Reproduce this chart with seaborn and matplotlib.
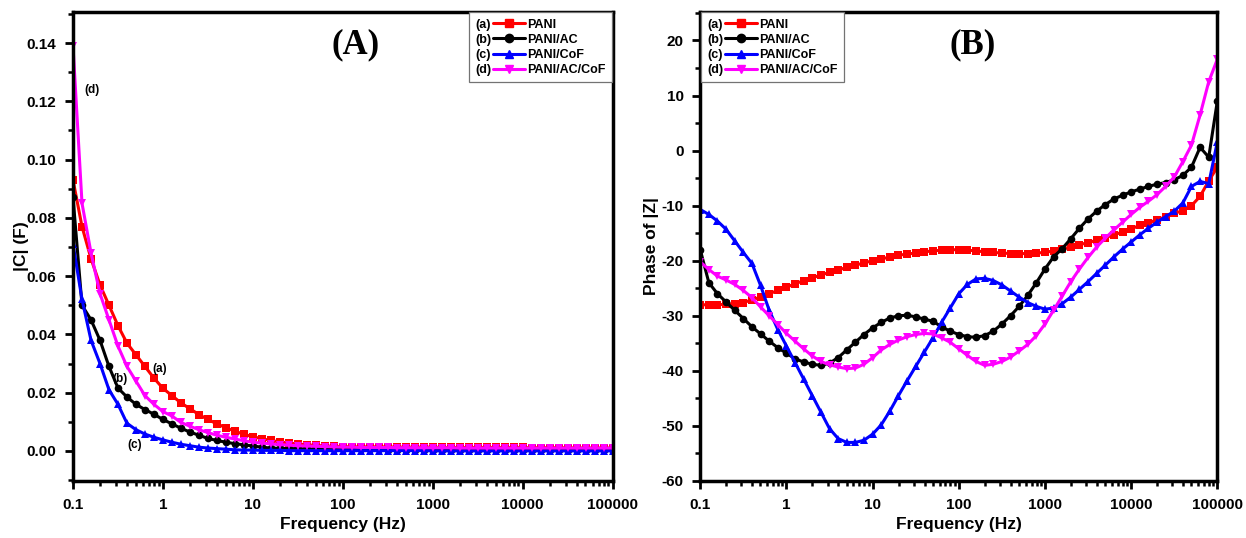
import numpy as np
import pandas as pd
import matplotlib
matplotlib.use("Agg")
import matplotlib.pyplot as plt
import seaborn as sns
from matplotlib.lines import Line2D
from matplotlib.legend_handler import HandlerBase
from matplotlib.ticker import FixedLocator, LogLocator, MultipleLocator, NullFormatter, FormatStrFormatter

# ---------------- data ----------------
FREQ_HZ = [0.1, 0.1259, 0.1585, 0.1995, 0.2512, 0.3162, 0.3981, 0.5012, 0.631, 0.7943,
           1, 1.259, 1.585, 1.995, 2.512, 3.162, 3.981, 5.012, 6.31, 7.943,
           10, 12.59, 15.85, 19.95, 25.12, 31.62, 39.81, 50.12, 63.1, 79.43,
           100, 125.9, 158.5, 199.5, 251.2, 316.2, 398.1, 501.2, 631, 794.3,
           1000, 1259, 1585, 1995, 2512, 3162, 3981, 5012, 6310, 7943,
           10000, 12590, 15850, 19950, 25120, 31620, 39810, 50120, 63100, 79430,
           100000]

SAMPLES = ["PANI", "PANI/AC", "PANI/CoF", "PANI/AC/CoF"]
TAGS = ["(a)", "(b)", "(c)", "(d)"]

# |C| (F)
C_PANI = [0.093, 0.077, 0.066, 0.057, 0.050, 0.043, 0.037, 0.033, 0.029, 0.025,
          0.0215, 0.019, 0.0165, 0.0145, 0.0125, 0.0108, 0.0093, 0.008, 0.0068, 0.0057,
          0.0049, 0.0042, 0.0036, 0.0031, 0.0027, 0.0024, 0.0021, 0.0019, 0.0017, 0.0016,
          0.0015, 0.0014, 0.0014, 0.0014, 0.0014, 0.0014, 0.0013, 0.0013, 0.0013, 0.0013,
          0.0013, 0.0012, 0.0012, 0.0012, 0.0012, 0.0012, 0.0012, 0.0012, 0.0012, 0.0012,
          0.0012, 0.0011, 0.0011, 0.0011, 0.0011, 0.0011, 0.0010, 0.0010, 0.0010, 0.0010,
          0.0010]
C_PANI_AC = [0.087, 0.050, 0.045, 0.038, 0.029, 0.0216, 0.0185, 0.016, 0.0142, 0.0126,
             0.0108, 0.0093, 0.0078, 0.0065, 0.0054, 0.0043, 0.0036, 0.003, 0.0025, 0.0021,
             0.0017, 0.0013, 0.0010, 0.0009, 0.0008, 0.0008, 0.0007, 0.0007, 0.0007, 0.0006,
             0.0006, 0.0006, 0.0006, 0.0006, 0.0006, 0.0005, 0.0005, 0.0005, 0.0005, 0.0005,
             0.0005, 0.0005, 0.0005, 0.0005, 0.0005, 0.0005, 0.0005, 0.0005, 0.0005, 0.0005,
             0.0005, 0.0005, 0.0005, 0.0005, 0.0005, 0.0005, 0.0005, 0.0005, 0.0005, 0.0005,
             0.0005]
C_PANI_COF = [0.071, 0.052, 0.038, 0.030, 0.021, 0.016, 0.0095, 0.0073, 0.0058, 0.0047,
              0.0038, 0.003, 0.0023, 0.0018, 0.0013, 0.001, 0.0008, 0.0006, 0.0004, 0.0003,
              0.0003, 0.0002, 0.0002, 0.0002, 0.0001, 0.0001, 0.0001, 0.0001, 0.0001, 0.0001,
              0.0001, 0.0001, 0.0001, 0.0001, 0.0001, 0.0001, 0.0001, 0.0001, 0.0001, 0.0001,
              0.0, 0.0, 0.0, 0.0, 0.0, 0.0, 0.0, 0.0, 0.0, 0.0,
              0.0, 0.0, 0.0, 0.0, 0.0, 0.0, 0.0, 0.0, 0.0, 0.0,
              0.0]
C_PANI_AC_COF = [0.139, 0.085, 0.068, 0.054, 0.045, 0.036, 0.029, 0.024, 0.019, 0.016,
                 0.0135, 0.012, 0.0098, 0.0085, 0.0073, 0.0063, 0.0054, 0.0047, 0.0041, 0.0035,
                 0.0030, 0.0027, 0.0024, 0.0022, 0.0020, 0.0018, 0.0017, 0.0016, 0.0015, 0.0014,
                 0.0013, 0.0013, 0.0012, 0.0012, 0.0012, 0.0012, 0.0011, 0.0011, 0.0011, 0.0011,
                 0.0011, 0.0011, 0.0011, 0.0010, 0.0010, 0.0010, 0.0010, 0.0010, 0.0010, 0.0010,
                 0.0010, 0.0010, 0.0010, 0.0010, 0.0010, 0.0010, 0.0010, 0.0010, 0.0010, 0.0010,
                 0.0010]

# Phase of |Z| (deg)
P_PANI = [-28.0, -28.0, -28.0, -27.9, -27.8, -27.6, -27.1, -26.6, -26.0, -25.4,
          -24.8, -24.2, -23.6, -23.1, -22.6, -22.1, -21.7, -21.2, -20.8, -20.4,
          -20.0, -19.7, -19.3, -19.0, -18.8, -18.6, -18.4, -18.2, -18.1, -18.0,
          -18.0, -18.1, -18.2, -18.4, -18.5, -18.6, -18.7, -18.7, -18.7, -18.6,
          -18.5, -18.2, -17.9, -17.5, -17.1, -16.7, -16.3, -15.8, -15.3, -14.8,
          -14.2, -13.6, -13.1, -12.6, -12.0, -11.4, -10.9, -10.0, -8.3, -5.5,
          -3.0]
P_PANI_AC = [-18.0, -24.0, -26.0, -27.5, -29.0, -30.5, -32.0, -33.3, -34.6, -35.8,
             -36.8, -37.8, -38.4, -38.8, -39.0, -38.6, -37.6, -36.2, -34.8, -33.4,
             -32.2, -31.2, -30.4, -30.0, -29.9, -30.2, -30.6, -31.0, -32.0, -32.8,
             -33.4, -33.8, -33.9, -33.6, -32.8, -31.5, -30.0, -28.3, -26.3, -24.0,
             -21.5, -19.3, -17.8, -16.0, -14.1, -12.4, -11.0, -9.8, -8.8, -8.1,
             -7.5, -7.0, -6.5, -6.1, -5.8, -5.3, -4.5, -3.0, 0.6, -1.2,
             9.0]
P_PANI_COF = [-10.7, -11.6, -12.8, -14.3, -16.4, -18.5, -20.5, -24.5, -29.0, -32.5,
              -35.5, -38.5, -41.5, -44.5, -47.5, -50.5, -52.3, -53.0, -53.0, -52.6,
              -51.5, -49.8, -47.3, -44.5, -41.8, -39.2, -36.6, -34.0, -31.2, -28.6,
              -26.0, -24.3, -23.3, -23.2, -23.6, -24.4, -25.5, -26.6, -27.6, -28.3,
              -28.8, -28.6, -27.8, -26.6, -25.2, -23.8, -22.3, -20.8, -19.3, -17.9,
              -16.6, -15.3, -14.1, -13.0, -12.0, -11.0, -9.5, -6.5, -5.6, -6.0,
              1.6]
P_PANI_AC_COF = [-20.2, -21.6, -22.8, -23.5, -24.3, -25.4, -26.7, -28.4, -30.0, -31.6,
                 -33.2, -34.6, -36.0, -37.3, -38.3, -38.9, -39.3, -39.6, -39.5, -38.8,
                 -37.6, -36.2, -35.2, -34.4, -33.8, -33.4, -33.2, -33.3, -34.0, -34.8,
                 -36.0, -37.2, -38.3, -39.0, -38.8, -38.3, -37.5, -36.4, -35.2, -33.6,
                 -31.5, -29.0, -26.4, -23.8, -21.5, -19.4, -17.5, -15.9, -14.4, -13.0,
                 -11.6, -10.3, -9.2, -8.0, -6.5, -4.8, -2.0, 1.0, 6.5, 12.5,
                 16.6]

X_TICKS = [0.1, 1, 10, 100, 1000, 10000, 100000]
X_TICK_LABELS = ["0.1", "1", "10", "100", "1000", "10000", "100000"]

# ---------------- style ----------------
sns.set_style("ticks")
plt.rcParams['font.family'] = ['Liberation Sans', 'DejaVu Sans']
plt.rcParams['font.weight'] = 'bold'
plt.rcParams['axes.labelweight'] = 'bold'
for key in ['text.color', 'axes.labelcolor', 'xtick.color', 'ytick.color', 'axes.edgecolor']:
    plt.rcParams[key] = 'black'

COLORS = {"PANI": "#FF0000", "PANI/AC": "#000000", "PANI/CoF": "#0000FF", "PANI/AC/CoF": "#FF00FF"}
MARKERS = {"PANI": "s", "PANI/AC": "o", "PANI/CoF": "^", "PANI/AC/CoF": "v"}
LEG_FS = 9.0
TAG_ROOM = 1.4  # em reserved at the left of each legend handle for the "(a)" tag

c_series = [C_PANI, C_PANI_AC, C_PANI_COF, C_PANI_AC_COF]
p_series = [P_PANI, P_PANI_AC, P_PANI_COF, P_PANI_AC_COF]
rows = []
for name, cv, pv in zip(SAMPLES, c_series, p_series):
    for f, c, p in zip(FREQ_HZ, cv, pv):
        rows.append({"freq": f, "C": c, "phase": p, "sample": name})
df = pd.DataFrame(rows)

fig = plt.figure(figsize=(12.46, 5.38), dpi=100)
axA = fig.add_axes([0.0586, 0.106, 0.433, 0.872])
axB = fig.add_axes([0.562, 0.106, 0.415, 0.872])


class ShiftedLineHandler(HandlerBase):
    """Legend handle: line + marker drawn in the right part of the handle box,
    leaving room at the left for the (a)..(d) tag text."""
    def create_artists(self, legend, orig, xd, yd, width, height, fontsize, trans):
        y = height / 2 - yd
        x0 = -xd + fontsize * TAG_ROOM
        x1 = -xd + width
        ln = Line2D([x0, x1], [y, y], color=orig.get_color(), lw=2.2, transform=trans)
        mk = Line2D([(x0 + x1) / 2], [y], marker=orig.get_marker(), color=orig.get_color(),
                    markersize=6, linestyle='none', transform=trans)
        return [ln, mk]


def style_axes(ax):
    for s in ax.spines.values():
        s.set_linewidth(2.5)
        s.set_color('black')
    ax.set_xscale('log')
    ax.set_xlim(0.1, 100000)
    ax.xaxis.set_major_locator(FixedLocator(X_TICKS))
    ax.set_xticklabels(X_TICK_LABELS)
    ax.xaxis.set_minor_locator(LogLocator(base=10, subs=np.arange(2, 10)))
    ax.xaxis.set_minor_formatter(NullFormatter())
    ax.tick_params(which='major', direction='out', length=6, width=2, labelsize=11,
                   top=False, right=False, pad=6, colors='black')
    ax.tick_params(which='minor', direction='out', length=3.5, width=1.8, top=False,
                   right=False, colors='black')
    for lab in ax.get_xticklabels() + ax.get_yticklabels():
        lab.set_fontweight('bold')
    ax.set_xlabel("Frequency (Hz)", fontsize=12.5, fontweight='bold', labelpad=4)


def add_legend(ax, loc):
    handles = [Line2D([], [], color=COLORS[s], marker=MARKERS[s]) for s in SAMPLES]
    hmap = {h: ShiftedLineHandler() for h in handles}
    leg = ax.legend(handles, SAMPLES, handler_map=hmap, loc=loc, fontsize=LEG_FS,
                    handlelength=4.0, handletextpad=0.15, labelspacing=0.25,
                    borderpad=0.5, borderaxespad=0.05, frameon=True, fancybox=False,
                    edgecolor='0.45', framealpha=1)
    leg.get_frame().set_linewidth(0.9)
    for t in leg.get_texts():
        t.set_fontweight('bold')
        t.set_color('black')
    return leg


# ---------------- Panel A ----------------
sns.lineplot(data=df, x="freq", y="C", hue="sample", style="sample", hue_order=SAMPLES,
             style_order=SAMPLES, palette=COLORS, markers=MARKERS, dashes=False,
             linewidth=2.2, markersize=5.5, markeredgewidth=0, errorbar=None,
             legend=False, ax=axA, sort=True)
style_axes(axA)
axA.set_ylim(-0.0103, 0.1507)
axA.yaxis.set_major_locator(MultipleLocator(0.02))
axA.yaxis.set_minor_locator(MultipleLocator(0.01))
axA.yaxis.set_major_formatter(FormatStrFormatter('%.2f'))
for lab in axA.get_yticklabels():
    lab.set_fontweight('bold')
axA.set_ylabel("|C| (F)", fontsize=12.5, fontweight='bold', labelpad=-2)
legA = add_legend(axA, 'upper right')
axA.text(0.523, 0.93, "(A)", transform=axA.transAxes, ha='center', va='center',
         fontsize=25, fontweight='bold', family=['Liberation Serif', 'DejaVu Serif'])
for tag, fx, fy in [("(d)", 0.163, 0.1238), ("(a)", 0.93, 0.0281),
                    ("(b)", 0.333, 0.0246), ("(c)", 0.49, 0.0019)]:
    axA.text(fx, fy, tag, ha='center', va='center', fontsize=8.5, fontweight='bold')

# ---------------- Panel B ----------------
sns.lineplot(data=df, x="freq", y="phase", hue="sample", style="sample", hue_order=SAMPLES,
             style_order=SAMPLES, palette=COLORS, markers=MARKERS, dashes=False,
             linewidth=2.2, markersize=5.5, markeredgewidth=0, errorbar=None,
             legend=False, ax=axB, sort=True)
style_axes(axB)
axB.set_ylim(-60, 25.2)
axB.yaxis.set_major_locator(MultipleLocator(10))
axB.yaxis.set_minor_locator(MultipleLocator(5))
axB.yaxis.set_major_formatter(FormatStrFormatter('%d'))
for lab in axB.get_yticklabels():
    lab.set_fontweight('bold')
axB.set_ylabel("Phase of |Z|", fontsize=12.5, fontweight='bold', labelpad=1.5)
legB = add_legend(axB, 'upper left')
axB.text(0.526, 0.93, "(B)", transform=axB.transAxes, ha='center', va='center',
         fontsize=25, fontweight='bold', family=['Liberation Serif', 'DejaVu Serif'])

# ---- place the (a)..(d) tags inside each legend, left of the handle lines ----
fig.canvas.draw()
renderer = fig.canvas.get_renderer()
W, H = fig.bbox.width, fig.bbox.height
for leg in (legA, legB):
    for t, tag in zip(leg.get_texts(), TAGS):
        tb = t.get_window_extent(renderer)
        em = LEG_FS * fig.dpi / 72.0
        x_left = tb.x0 - (4.0 + 0.15) * em
        fig.text(x_left / W, (tb.y0 + tb.y1) / 2 / H, tag, ha='left', va='center',
                 fontsize=LEG_FS, fontweight='bold', color='black', zorder=10)

fig.savefig("out.png", dpi=100)
